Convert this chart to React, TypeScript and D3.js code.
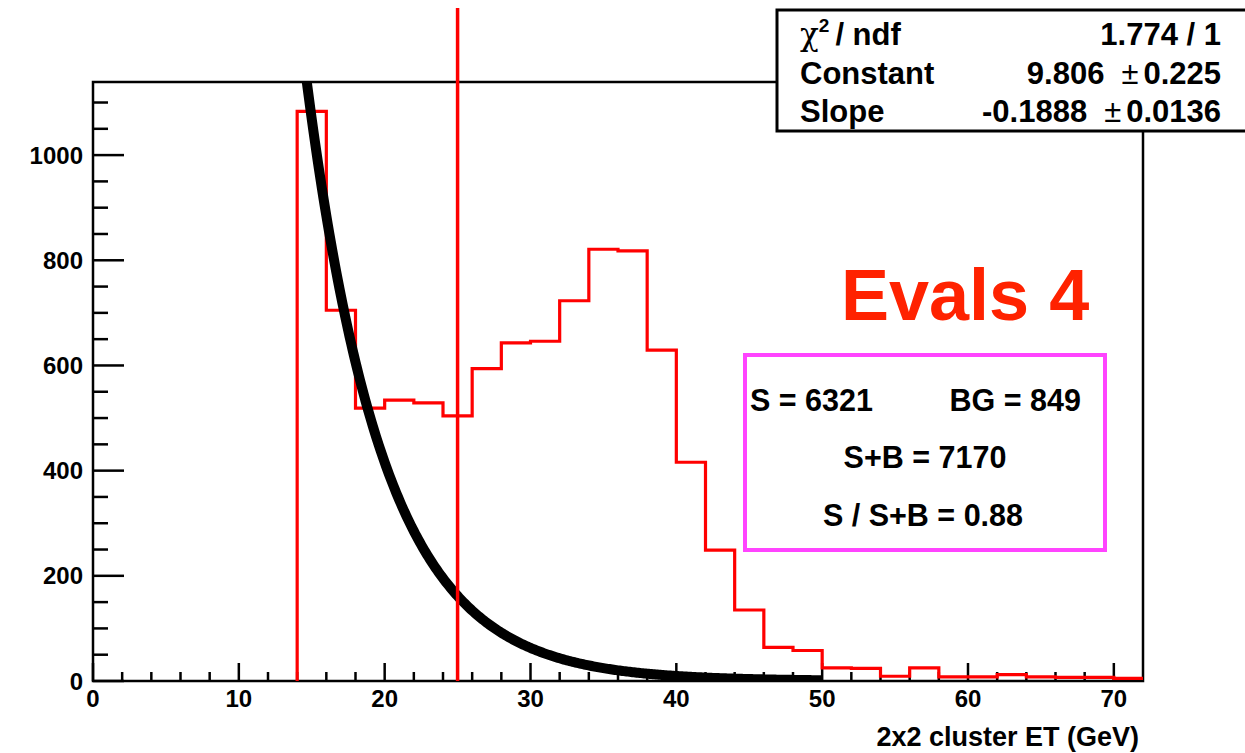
import React from "react";
import * as d3 from "d3";

// Histogram of 2x2 cluster ET, 2 GeV bins starting at 14 GeV
const binStart = 14;
const binWidth = 2;
const counts = [
  1083, 705, 519, 534, 529, 504, 594, 643, 646, 723, 821, 818, 629, 416, 249,
  135, 64, 58, 25, 24, 9, 25, 8, 8, 12, 8, 7, 7, 5,
];

// Exponential background fit: exp(Constant + Slope * x)
const fitConstant = 9.806;
const fitSlope = -0.1888;
const fitRange = [14, 50];

// Signal window cut
const cutLines = [25];

const xTicks = [0, 10, 20, 30, 40, 50, 60, 70];
const yTicks = [0, 200, 400, 600, 800, 1000];

const statsRows = [
  { label: "chi2", value: "1.774 / 1", err: "" },
  { label: "Constant", value: "9.806", err: "0.225" },
  { label: "Slope", value: "-0.1888", err: "0.0136" },
];

const title = "Evals 4";
const xTitle = "2x2 cluster ET (GeV)";
const sbLines = ["S = 6321", "BG = 849", "S+B = 7170", "S / S+B = 0.88"];

const W = 1245;
const H = 753;
const FONT = "'Liberation Sans', Arial, Helvetica, sans-serif";

export default function App() {
  const x = d3.scaleLinear().domain([0, 72]).range([93, 1143]);
  const y = d3.scaleLinear().domain([0, 1139]).range([681, 82]);

  const histPts: [number, number][] = [[binStart, 0]];
  counts.forEach((c, i) => histPts.push([binStart + i * binWidth, c]));
  histPts.push([binStart + counts.length * binWidth, counts[counts.length - 1]]);
  const histPath = d3
    .line<[number, number]>()
    .x((d) => x(d[0]))
    .y((d) => y(d[1]))
    .curve(d3.curveStepAfter)(histPts)!;

  const fitXs = d3.range(fitRange[0], fitRange[1] + 0.001, 0.1);
  const fitPath = d3
    .line<number>()
    .x((d) => x(d))
    .y((d) => y(Math.exp(fitConstant + fitSlope * d)))(fitXs)!;

  const xMinor = d3.range(0, 72, 2).filter((v) => v % 10 !== 0);
  const yMinor = d3.range(0, 1139, 50).filter((v) => v % 200 !== 0);

  const [x0, x1] = x.range();
  const [y0, y1] = y.range();

  return (
    <svg
      width={W}
      height={H}
      style={{ position: "absolute", left: 0, top: 0, background: "#fff" }}
      fontFamily={FONT}
      fontWeight="bold"
    >
      <defs>
        <clipPath id="frameClip">
          <rect x={x0} y={y1} width={x1 - x0} height={y0 - y1} />
        </clipPath>
      </defs>
      <rect width={W} height={H} fill="#fff" />

      {/* frame */}
      <rect x={x0} y={y1} width={x1 - x0} height={y0 - y1} fill="none" stroke="#000" strokeWidth={2.5} />

      {/* x ticks */}
      {xTicks.map((t) => (
        <line key={"xt" + t} x1={x(t)} x2={x(t)} y1={y0} y2={y0 - 18} stroke="#000" strokeWidth={2.5} />
      ))}
      {xMinor.map((t) => (
        <line key={"xm" + t} x1={x(t)} x2={x(t)} y1={y0} y2={y0 - 9} stroke="#000" strokeWidth={2.5} />
      ))}
      {xTicks.map((t) => (
        <text key={"xl" + t} x={x(t)} y={707} textAnchor="middle" fontSize={24}>
          {t}
        </text>
      ))}

      {/* y ticks */}
      {yTicks.map((t) => (
        <line key={"yt" + t} x1={x0} x2={x0 + 31} y1={y(t)} y2={y(t)} stroke="#000" strokeWidth={2.5} />
      ))}
      {yMinor.map((t) => (
        <line key={"ym" + t} x1={x0} x2={x0 + 15} y1={y(t)} y2={y(t)} stroke="#000" strokeWidth={2.5} />
      ))}
      {yTicks.map((t) => (
        <text key={"yl" + t} x={83} y={y(t) + 8.5} textAnchor="end" fontSize={24}>
          {t}
        </text>
      ))}

      <text x={1139} y={746} textAnchor="end" fontSize={27}>
        {xTitle}
      </text>

      {/* histogram and fit */}
      <g clipPath="url(#frameClip)">
        <path d={histPath} fill="none" stroke="#ff0000" strokeWidth={3.2} />
        <path d={fitPath} fill="none" stroke="#000" strokeWidth={10} />
      </g>

      {/* cut line */}
      {cutLines.map((c) => (
        <line key={"cut" + c} x1={x(c)} x2={x(c)} y1={8} y2={y0} stroke="#ff0000" strokeWidth={3.5} />
      ))}

      {/* fit statistics box */}
      <rect x={777} y={10} width={500} height={121} fill="#fff" stroke="#000" strokeWidth={3} />
      {statsRows.map((r, i) => {
        const by = 45 + i * 38.5;
        return (
          <g key={"st" + i} fontSize={31}>
            {r.label === "chi2" ? (
              <text x={800} y={by}>
                <tspan fontWeight="normal" fontFamily="'DejaVu Serif', serif">χ</tspan>
                <tspan fontSize={19} dy={-13}>2</tspan>
                <tspan dy={13} dx={6}>/ ndf</tspan>
              </text>
            ) : (
              <text x={800} y={by}>{r.label}</text>
            )}
            <text x={1221} y={by} textAnchor="end">
              {r.err ? (
                <>
                  <tspan>{r.value}</tspan>
                  <tspan fontWeight="normal" dx={17}>±</tspan>
                  <tspan dx={5}>{r.err}</tspan>
                </>
              ) : (
                r.value
              )}
            </text>
          </g>
        );
      })}

      {/* title */}
      <text x={841} y={320} fontSize={72} fill="#ff2200">
        {title}
      </text>

      {/* signal / background summary */}
      <rect x={745} y={355} width={360} height={195} fill="none" stroke="#ff44ff" strokeWidth={4} />
      <g fontSize={30.5}>
        <text x={750} y={411}>{sbLines[0]}</text>
        <text x={1081} y={411} textAnchor="end">{sbLines[1]}</text>
        <text x={925} y={468} textAnchor="middle">{sbLines[2]}</text>
        <text x={923} y={526} textAnchor="middle">{sbLines[3]}</text>
      </g>
    </svg>
  );
}
